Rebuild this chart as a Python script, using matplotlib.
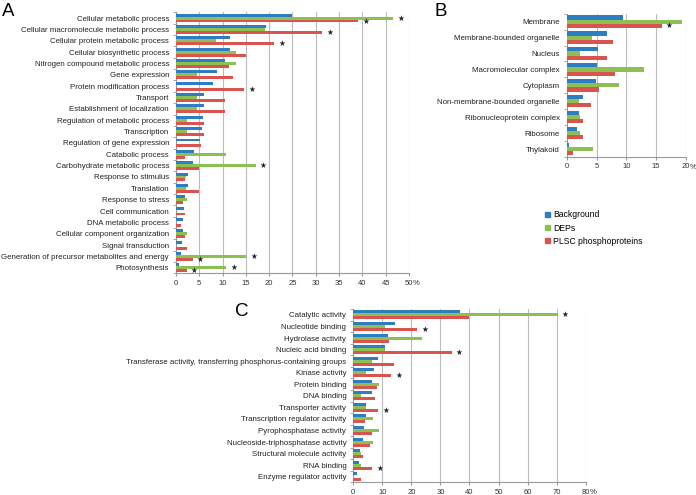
import matplotlib.pyplot as plt
from matplotlib.patches import Patch
import numpy as np

plt.rcParams['font.family'] = ['Liberation Sans', 'DejaVu Sans']

series_names = ['Background', 'DEPs', 'PLSC phosphoproteins']
colors = ['#2E7DC2', '#8CC152', '#D9534F']

# Panel A: biological process
a_labels = ['Cellular metabolic process', 'Cellular macromolecule metabolic process',
            'Cellular protein metabolic process', 'Cellular biosynthetic process',
            'Nitrogen compound metabolic process', 'Gene expression',
            'Protein modification process', 'Transport', 'Establishment of localization',
            'Regulation of metabolic process', 'Transcription', 'Regulation of gene expression',
            'Catabolic process', 'Carbohydrate metabolic process', 'Response to stimulus',
            'Translation', 'Response to stress', 'Cell communication', 'DNA metabolic process',
            'Cellular component organization', 'Signal transduction',
            'Generation of precursor metabolites and energy', 'Photosynthesis']
a_background = [24.8, 19.4, 11.6, 11.6, 10.6, 8.8, 8.0, 6.1, 6.1, 5.7, 5.6, 5.1,
                3.9, 3.6, 2.5, 2.5, 1.9, 1.7, 1.4, 1.4, 1.3, 1.0, 0.6]
a_deps = [46.6, 19.2, 8.6, 12.8, 12.8, 4.4, 0.1, 4.4, 4.4, 2.3, 2.3, 0.0,
          10.7, 17.1, 2.1, 2.1, 2.3, 0.0, 0.0, 2.3, 0.0, 15.0, 10.7]
a_plsc = [39.1, 31.4, 21.0, 15.0, 11.4, 12.3, 14.6, 10.6, 10.6, 5.9, 5.9, 5.3,
          1.9, 4.9, 1.9, 4.9, 1.4, 1.9, 1.1, 1.9, 2.4, 3.6, 2.3]
a_stars = [(0, 1), (0, 2), (1, 2), (2, 2), (6, 2), (13, 1), (21, 1), (21, 2), (22, 1), (22, 2)]

# Panel B: cellular component
b_labels = ['Membrane', 'Membrane-bounded organelle', 'Nucleus', 'Macromolecular complex',
            'Cytoplasm', 'Non-membrane-bounded organelle', 'Ribonucleoprotein complex',
            'Ribosome', 'Thylakoid']
b_background = [9.4, 6.7, 5.3, 5.1, 4.9, 2.7, 2.0, 1.7, 0.4]
b_deps = [19.4, 4.3, 2.2, 13.0, 8.7, 2.1, 2.2, 2.2, 4.4]
b_plsc = [15.9, 7.7, 6.8, 8.1, 5.4, 4.1, 2.7, 2.7, 1.0]
b_stars = [(0, 2)]

# Panel C: molecular function
c_labels = ['Catalytic activity', 'Nucleotide binding', 'Hydrolase activity',
            'Nucleic acid binding',
            'Transferase activity, transferring phosphorus-containing groups',
            'Kinase activity', 'Protein binding', 'DNA binding', 'Transporter activity',
            'Transcription regulator activity', 'Pyrophosphatase activity',
            'Nucleoside-triphosphatase activity', 'Structural molecule activity',
            'RNA binding', 'Enzyme regulator activity']
c_background = [36.8, 14.2, 11.9, 10.8, 8.5, 7.3, 6.6, 6.3, 4.3, 4.3, 3.8, 3.5, 2.4, 1.9, 1.3]
c_deps = [70.3, 10.8, 23.6, 10.8, 6.6, 4.5, 8.8, 2.5, 4.5, 6.7, 8.8, 6.7, 2.5, 2.5, 0.0]
c_plsc = [39.9, 21.9, 12.2, 33.9, 13.9, 13.0, 8.2, 7.4, 8.6, 3.9, 6.4, 5.6, 3.4, 6.5, 2.5]
c_stars = [(0, 1), (1, 2), (3, 2), (5, 2), (8, 2), (13, 2)]


def panel(ax, labels, data, stars, xmax, step):
    y = np.arange(len(labels))
    h = 0.26
    for k, vals in enumerate(data):
        ax.barh(y + (k - 1) * h, vals, height=h, color=colors[k],
                edgecolor='none', zorder=3)
    for i, k in stars:
        ax.annotate('★', (data[k][i], y[i] + (k - 1) * h), xytext=(3, 0),
                    textcoords='offset points', va='center', ha='left',
                    fontsize=5.5, family='DejaVu Sans', color='#222222')
    ax.set_ylim(len(labels) - 0.5, -0.5)
    ax.set_xlim(0, xmax)
    ax.set_xticks(np.arange(0, xmax + 0.1, step))
    ax.set_yticks(y)
    ax.set_yticklabels(labels)
    ax.set_yticks(np.arange(-0.5, len(labels), 1), minor=True)
    ax.tick_params(axis='y', which='major', length=0, labelsize=5.7,
                   labelcolor='#222222', pad=5)
    ax.tick_params(axis='y', which='minor', length=2.5, color='#999999')
    ax.tick_params(axis='x', length=2.5, color='#999999', labelsize=5.5,
                   labelcolor='#333333', pad=2)
    ax.grid(axis='x', color='#BBBBBB', linewidth=0.8, zorder=0)
    for s in ['top', 'right']:
        ax.spines[s].set_visible(False)
    for s in ['left', 'bottom']:
        ax.spines[s].set_color('#999999')
        ax.spines[s].set_linewidth(0.8)
    ax.annotate('%', (1, 0), xycoords='axes fraction', xytext=(3, -7.5),
                textcoords='offset points', fontsize=5.5, color='#333333',
                ha='left', va='center')


fig = plt.figure(figsize=(6.96, 4.95), dpi=100)

axA = fig.add_axes([0.2529, 0.4475, 0.3347, 0.5275])
panel(axA, a_labels, [a_background, a_deps, a_plsc], a_stars, 50, 5)

axB = fig.add_axes([0.8142, 0.6828, 0.1714, 0.2895])
panel(axB, b_labels, [b_background, b_deps, b_plsc], b_stars, 20, 5)

axC = fig.add_axes([0.5076, 0.0253, 0.3339, 0.3501])
panel(axC, c_labels, [c_background, c_deps, c_plsc], c_stars, 80, 10)

fig.text(0.003, 0.976, 'A', fontsize=13.5, va='center', ha='left')
fig.text(0.625, 0.976, 'B', fontsize=13.5, va='center', ha='left')
fig.text(0.338, 0.370, 'C', fontsize=13.5, va='center', ha='left')

handles = [Patch(color=c) for c in colors]
fig.legend(handles, series_names, loc='upper left', bbox_to_anchor=(0.777, 0.584),
           frameon=False, fontsize=6.2, handlelength=0.55, handleheight=0.55,
           handletextpad=0.4, labelspacing=0.5, borderpad=0)

fig.savefig('out.png', dpi=100)
